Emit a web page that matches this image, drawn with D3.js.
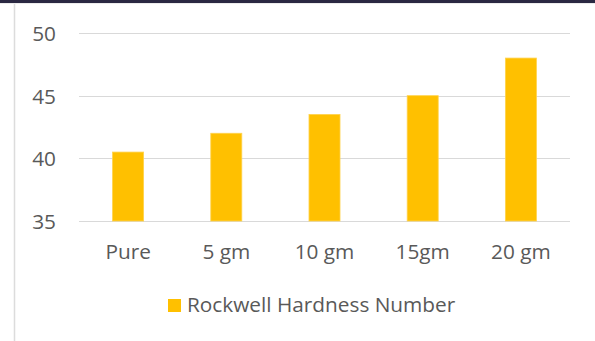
<!DOCTYPE html>
<html>
<head>
<meta charset="utf-8">
<script src="https://cdn.jsdelivr.net/npm/d3@7"></script>
<style>
  html, body { margin: 0; padding: 0; background: #fff; }
  svg { display: block; }
  text { font-family: "Open Sans", sans-serif; fill: #595959; }
</style>
</head>
<body>
<svg id="chart" width="595" height="341"></svg>
<script>
// Rockwell hardness by additive amount
const categories = ["Pure", "5 gm", "10 gm", "15gm", "20 gm"];
const hardness = [40.5, 42, 43.5, 45, 48];
const yTicks = [35, 40, 45, 50];
const seriesName = "Rockwell Hardness Number";

const W = 595, H = 341;
const FONT = "'Open Sans', sans-serif";
const FS = 20.8;
const svg = d3.select("#chart");

// window chrome: dark strip on top, thin frame lines
svg.append("rect").attr("x", 0).attr("y", 0).attr("width", W).attr("height", 3).attr("fill", "#2a2842");
svg.append("line").attr("x1", 0).attr("x2", W).attr("y1", 3.5).attr("y2", 3.5)
  .attr("stroke", "#ececec").attr("stroke-width", 1);
svg.append("line").attr("x1", 14.5).attr("x2", 14.5).attr("y1", 4).attr("y2", H)
  .attr("stroke", "#dcdcdc").attr("stroke-width", 1.5);

const plot = { left: 79, right: 570, top: 33, bottom: 221 };

const x = d3.scaleBand().domain(categories).range([plot.left, plot.right]).paddingInner(0.684).paddingOuter(0.342);
const y = d3.scaleLinear().domain([35, 50]).range([plot.bottom, plot.top]);

// gridlines
svg.append("g").selectAll("line").data(yTicks).join("line")
  .attr("x1", plot.left).attr("x2", plot.right)
  .attr("y1", d => Math.round(y(d)) + 0.5).attr("y2", d => Math.round(y(d)) + 0.5)
  .attr("stroke", "#d9d9d9").attr("stroke-width", 1.2);

// y tick labels
const yAxis = d3.axisLeft(y).tickValues(yTicks).tickSize(0).tickPadding(0);
const gy = svg.append("g").attr("transform", `translate(56,0)`).call(yAxis);
gy.select(".domain").remove();
gy.selectAll("text").attr("font-size", FS).attr("dy", "0.36em").style("font-family", FONT).attr("fill", "#595959");

// bars
svg.append("g").selectAll("rect").data(hardness).join("rect")
  .attr("x", (d, i) => x(categories[i]))
  .attr("y", d => y(d))
  .attr("width", x.bandwidth())
  .attr("height", d => y(35) - y(d))
  .attr("fill", "#ffc000")
  .attr("stroke", "#ffd34d").attr("stroke-width", 0.8);

// x labels
const xAxis = d3.axisBottom(x).tickSize(0).tickPadding(0);
const gx = svg.append("g").attr("transform", `translate(0,${plot.bottom})`).call(xAxis);
gx.select(".domain").remove();
gx.selectAll("text").attr("font-size", FS).attr("y", 38).attr("dy", 0).style("font-family", FONT).attr("fill", "#595959");

// legend
const lg = svg.append("g");
lg.append("rect").attr("x", 168).attr("y", 299).attr("width", 13).attr("height", 13).attr("fill", "#ffc000");
lg.append("text").attr("x", 187).attr("y", 312).attr("font-size", FS).text(seriesName);
</script>
</body>
</html>
